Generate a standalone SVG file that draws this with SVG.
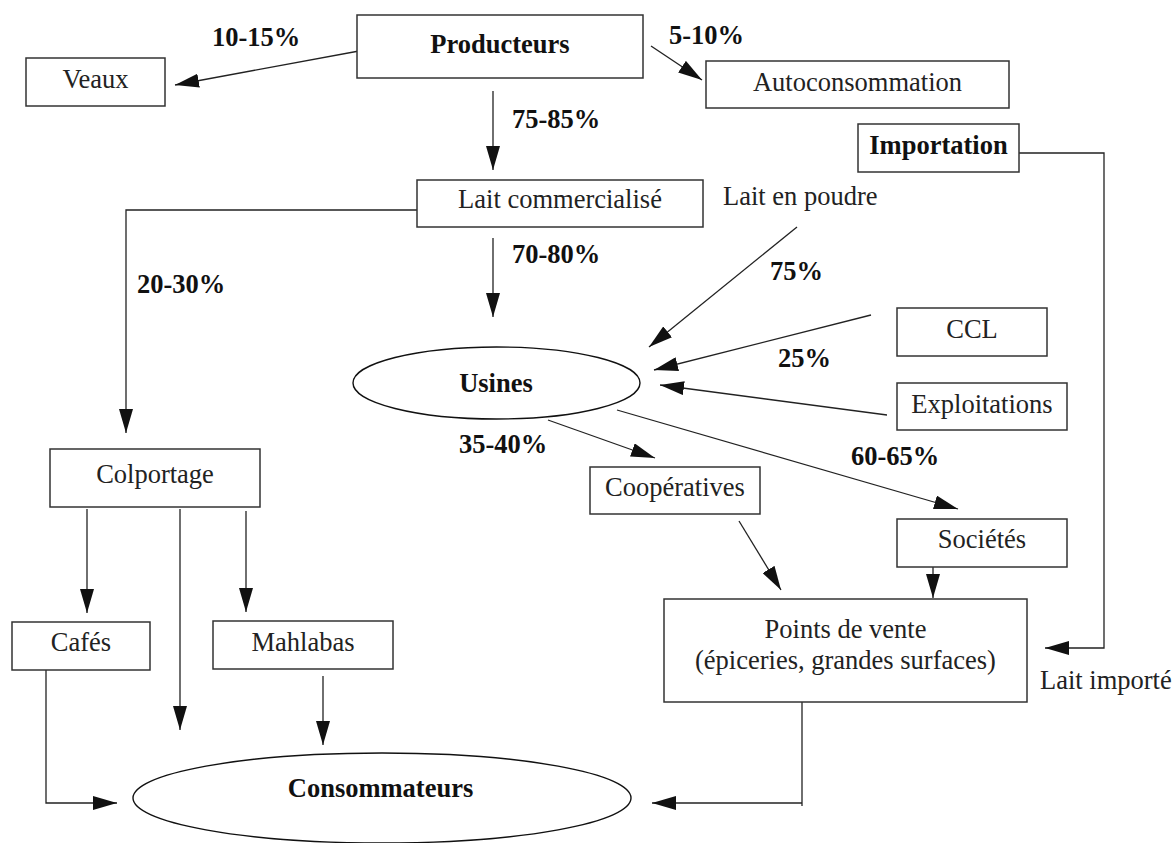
<svg xmlns="http://www.w3.org/2000/svg" width="1173" height="843" viewBox="0 0 1173 843">
<defs>
<style>
.box{fill:#fff;stroke:#333;stroke-width:1.5}
.ell{fill:#fff;stroke:#111;stroke-width:1.4}
.t{font-family:"Liberation Serif","Times New Roman",serif;font-size:26.5px;fill:#222}
.c{text-anchor:middle}
.b{font-weight:bold;fill:#111}
.ln{fill:none;stroke:#222;stroke-width:1.3;marker-end:url(#ah)}
.pl{fill:none;stroke:#222;stroke-width:1.3}
</style>
<marker id="ah" markerUnits="userSpaceOnUse" markerWidth="25" markerHeight="14" refX="24" refY="7" orient="auto" viewBox="0 0 25 14">
<path d="M0,0 L24,7 L0,14 Z" fill="#111"/>
</marker>
</defs>
<rect width="1173" height="843" fill="#fff"/>
<g id="connectors">
<line class="ln" x1="359" y1="51" x2="175" y2="85"/>
<line class="ln" x1="651" y1="46" x2="702" y2="80"/>
<line class="ln" x1="493" y1="91" x2="493" y2="170"/>
<polyline class="ln" points="417,210 126,210 126,433"/>
<line class="ln" x1="493" y1="238" x2="493" y2="317"/>
<line class="ln" x1="797" y1="227" x2="649" y2="347"/>
<line class="ln" x1="871" y1="315" x2="654" y2="370"/>
<line class="ln" x1="887" y1="415" x2="660" y2="385"/>
<line class="ln" x1="548" y1="420" x2="655" y2="458"/>
<line class="ln" x1="617" y1="410" x2="958" y2="509"/>
<line class="ln" x1="87" y1="509" x2="87" y2="613"/>
<line class="ln" x1="180" y1="509" x2="180" y2="730"/>
<line class="ln" x1="246" y1="511" x2="246" y2="612"/>
<polyline class="ln" points="46,670 46,803 117,803"/>
<line class="ln" x1="323" y1="676" x2="323" y2="745"/>
<line class="ln" x1="739" y1="521" x2="781" y2="590"/>
<line class="ln" x1="933" y1="567" x2="933" y2="598"/>
<polyline class="ln" points="1019,153 1104,153 1104,648 1045,648"/>
<line class="pl" x1="802" y1="702" x2="802" y2="806"/>
<line class="ln" x1="802" y1="803" x2="652" y2="803"/>
</g>
<g id="labels">
<text class="t b" x="212" y="46">10-15%</text>
<text class="t b" x="669" y="44">5-10%</text>
<text class="t b" x="512" y="128">75-85%</text>
<text class="t b" x="512" y="263">70-80%</text>
<text class="t b" x="137" y="293">20-30%</text>
<text class="t b" x="770" y="280">75%</text>
<text class="t b" x="778" y="367">25%</text>
<text class="t b" x="459" y="453">35-40%</text>
<text class="t b" x="851" y="465">60-65%</text>
<text class="t" x="723" y="205">Lait en poudre</text>
<text class="t" x="1040" y="689">Lait importé</text>
</g>
<g id="producteurs"><rect class="box" x="357" y="15" width="286" height="63"/><text class="t b c" x="500" y="53">Producteurs</text></g>
<g id="veaux"><rect class="box" x="26" y="58" width="139" height="48"/><text class="t c" x="95.5" y="88">Veaux</text></g>
<g id="autoconsommation"><rect class="box" x="706" y="61" width="303" height="47"/><text class="t c" x="857.5" y="91">Autoconsommation</text></g>
<g id="importation"><rect class="box" x="858" y="124" width="161" height="48"/><text class="t b c" x="938.5" y="154">Importation</text></g>
<g id="lait-commercialise"><rect class="box" x="417" y="180" width="286" height="47"/><text class="t c" x="560" y="208">Lait commercialisé</text></g>
<g id="ccl"><rect class="box" x="897" y="308" width="150" height="48"/><text class="t c" x="972" y="338">CCL</text></g>
<g id="exploitations"><rect class="box" x="897" y="383" width="170" height="47"/><text class="t c" x="982" y="413">Exploitations</text></g>
<g id="usines"><ellipse class="ell" cx="496.5" cy="383" rx="143.5" ry="36"/><text class="t b c" x="496" y="392">Usines</text></g>
<g id="colportage"><rect class="box" x="50" y="449" width="210" height="58"/><text class="t c" x="155" y="483">Colportage</text></g>
<g id="cooperatives"><rect class="box" x="590" y="467" width="170" height="47"/><text class="t c" x="675" y="496">Coopératives</text></g>
<g id="societes"><rect class="box" x="897" y="519" width="170" height="48"/><text class="t c" x="982" y="548">Sociétés</text></g>
<g id="cafes"><rect class="box" x="12" y="622" width="138" height="48"/><text class="t c" x="81" y="651">Cafés</text></g>
<g id="mahlabas"><rect class="box" x="213" y="621" width="180" height="48"/><text class="t c" x="303" y="651">Mahlabas</text></g>
<g id="points-de-vente"><rect class="box" x="664" y="599" width="363" height="103"/><text class="t c" x="845.5" y="638">Points de vente</text><text class="t c" x="845.5" y="669">(épiceries, grandes surfaces)</text></g>
<g id="consommateurs"><ellipse class="ell" cx="382" cy="798" rx="249" ry="45"/><text class="t b c" x="380.5" y="797">Consommateurs</text></g>
</svg>
